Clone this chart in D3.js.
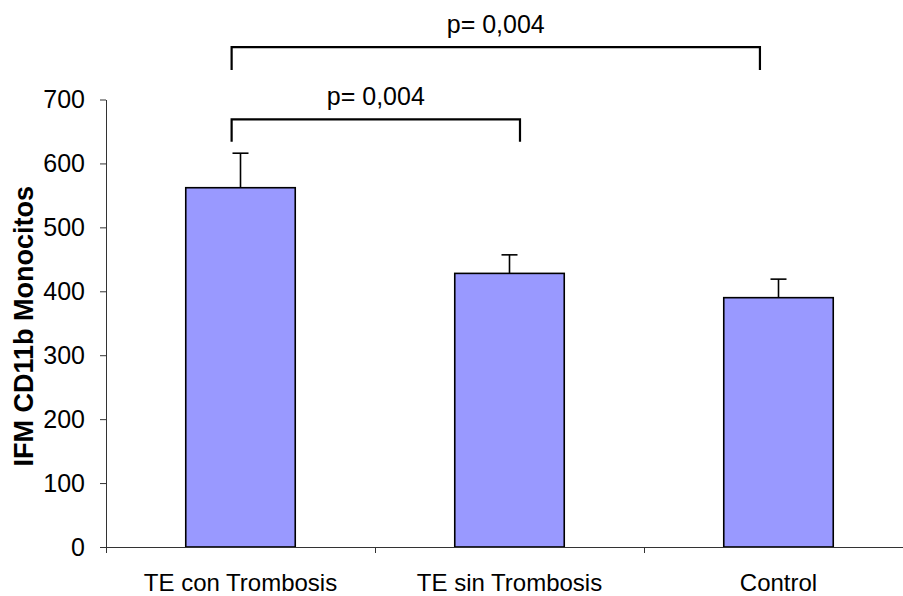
<!DOCTYPE html>
<html>
<head>
<meta charset="utf-8">
<script src="https://cdn.jsdelivr.net/npm/d3@7"></script>
<style>
    body { margin: 0; background: #fff; }
    text { font-family: "Liberation Sans", Arial, sans-serif; fill: #000; }
</style>
</head>
<body>
<div class="chart-container"></div>
<script>
// chart data
const categories = ['TE con Trombosis', 'TE sin Trombosis', 'Control'];
const means = [562, 428, 390];
const errors = [54, 29, 29];
const yTicks = [0, 100, 200, 300, 400, 500, 600, 700];

// significance brackets: category index positions, level in data units
const bracketFrom = [0.467, 0.467];
const bracketTo = [1.539, 2.431];
const bracketLevel = [669, 782];
const bracketDrop = [634, 746];
const bracketLabels = ['p= 0,004', 'p= 0,004'];

const width = 903;
const height = 596;
const margin = { top: 99.5, left: 106, bottom: 49, right: -10 };

const xScale = d3.scaleBand()
    .domain(categories)
    .range([margin.left, width - margin.right])
    .padding(0);

// continuous position along categories, for annotations
const posScale = d3.scaleLinear()
    .domain([0, categories.length])
    .range([margin.left, width - margin.right]);

const yScale = d3.scaleLinear()
    .domain([0, 700])
    .range([height - margin.bottom, margin.top]);

const svg = d3.select('.chart-container')
    .append('svg')
    .attr('width', width)
    .attr('height', height);

const barWidth = xScale.bandwidth() * 0.407;

// bars
svg.append('g')
    .selectAll('rect')
    .data(categories)
    .enter()
    .append('rect')
    .attr('x', d => xScale(d) + xScale.bandwidth() / 2 - barWidth / 2)
    .attr('y', (d, i) => yScale(means[i]))
    .attr('width', barWidth)
    .attr('height', (d, i) => yScale(0) - yScale(means[i]))
    .style('fill', '#9999ff')
    .style('stroke', '#000')
    .style('stroke-width', 1.6);

// error bars (upper only)
const err = svg.append('g')
    .selectAll('g')
    .data(categories)
    .enter()
    .append('g')
    .attr('transform', d => `translate(${xScale(d) + xScale.bandwidth() / 2}, 0)`);

err.append('line')
    .attr('y1', (d, i) => yScale(means[i]))
    .attr('y2', (d, i) => yScale(means[i] + errors[i]))
    .style('stroke', '#000')
    .style('stroke-width', 1.6);

err.append('line')
    .attr('x1', -8)
    .attr('x2', 8)
    .attr('y1', (d, i) => yScale(means[i] + errors[i]))
    .attr('y2', (d, i) => yScale(means[i] + errors[i]))
    .style('stroke', '#000')
    .style('stroke-width', 1.6);

// axes
const yAxis = d3.axisLeft(yScale)
    .tickValues(yTicks)
    .tickSizeInner(6)
    .tickSizeOuter(0)
    .tickPadding(15);

const yAxisDraw = svg.append('g')
    .attr('transform', `translate(${margin.left}, 0)`)
    .call(yAxis);

yAxisDraw.selectAll('text')
    .attr('font-size', 25)
    .attr('font-family', '"Liberation Sans", Arial, sans-serif');

const xAxis = d3.axisBottom(posScale)
    .tickValues([0, 1, 2, 3])
    .tickFormat('')
    .tickSizeInner(6)
    .tickSizeOuter(0);

svg.append('g')
    .attr('transform', `translate(0, ${yScale(0)})`)
    .call(xAxis);

svg.selectAll('.domain, .tick line')
    .style('stroke', '#333')
    .style('stroke-width', 1);

// category labels
svg.append('g')
    .selectAll('text')
    .data(categories)
    .enter()
    .append('text')
    .attr('x', d => xScale(d) + xScale.bandwidth() / 2)
    .attr('y', yScale(0) + 44)
    .attr('text-anchor', 'middle')
    .attr('font-size', 24)
    .text(d => d);

// y axis title
svg.append('text')
    .attr('transform', `translate(33, ${(yScale(0) + yScale(700)) / 2 + 3}) rotate(-90)`)
    .attr('text-anchor', 'middle')
    .attr('font-size', 27)
    .attr('font-weight', 'bold')
    .text('IFM CD11b Monocitos');

// significance brackets
const brackets = svg.append('g')
    .selectAll('g')
    .data(bracketLabels)
    .enter()
    .append('g');

brackets.append('path')
    .attr('d', (d, i) => {
        const x1 = posScale(bracketFrom[i]);
        const x2 = posScale(bracketTo[i]);
        const y = yScale(bracketLevel[i]);
        const yd = yScale(bracketDrop[i]);
        return `M${x1},${yd}V${y}H${x2}V${yd}`;
    })
    .style('fill', 'none')
    .style('stroke', '#000')
    .style('stroke-width', 2.2);

brackets.append('text')
    .attr('x', (d, i) => (posScale(bracketFrom[i]) + posScale(bracketTo[i])) / 2)
    .attr('y', (d, i) => yScale(bracketLevel[i]) - 14)
    .attr('text-anchor', 'middle')
    .attr('font-size', 25)
    .text(d => d);
</script>
</body>
</html>
